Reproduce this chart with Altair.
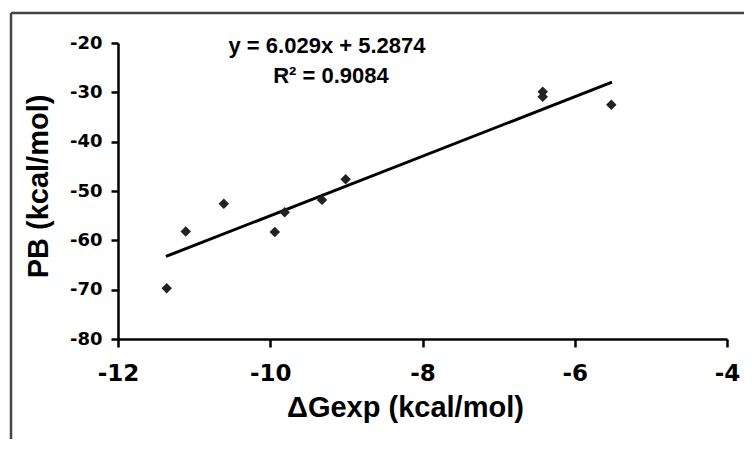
import altair as alt
import pandas as pd

# Data
dg_exp = [-11.36, -11.11, -10.61, -9.94, -9.81, -9.32, -9.01, -6.42, -6.42, -5.52]
pb = [-69.7, -58.2, -52.6, -58.3, -54.3, -51.8, -47.6, -29.9, -30.9, -32.5]

slope = 6.029
intercept = 5.2874
fit_x = [-11.37, -5.51]
fit_y = [slope * v + intercept for v in fit_x]

x_ticks = [-12, -10, -8, -6, -4]
y_ticks = [-80, -70, -60, -50, -40, -30, -20]

eq_text = "y = 6.029x + 5.2874"
r2_text = "R² = 0.9084"

pts = pd.DataFrame({"x": dg_exp, "y": pb})
fit = pd.DataFrame({"x": fit_x, "y": fit_y})

W, H = 609, 296

xscale = alt.Scale(domain=[-12, -4], nice=False, zero=False)
yscale = alt.Scale(domain=[-80, -20], nice=False, zero=False)

xaxis = alt.Axis(
    values=x_ticks, grid=False, domainColor="black", domainWidth=2.5,
    tickColor="black", tickWidth=2.5, tickSize=8,
    labelFont="DejaVu Sans", labelFontWeight="bold", labelFontSize=23,
    labelColor="black", labelPadding=15, labelFlush=False,
    labelExpr="toString(datum.value)",
    title="ΔGexp (kcal/mol)", titleFont="Liberation Sans", titleFontWeight="bold",
    titleFontSize=29, titleColor="black", titleX=287, titleY=77,
    titleBaseline="alphabetic", titleAlign="center",
)
yaxis = alt.Axis(
    values=y_ticks, grid=False, domainColor="black", domainWidth=2.5,
    tickColor="black", tickWidth=2.5, tickSize=7,
    labelFont="DejaVu Sans", labelFontWeight="bold", labelFontSize=18,
    labelColor="black", labelPadding=9, labelFlush=False,
    labelExpr="toString(datum.value)",
    title="PB (kcal/mol)", titleFont="Liberation Sans", titleFontWeight="bold",
    titleFontSize=29, titleColor="black", titleX=-71, titleY=143,
    titleAngle=270, titleBaseline="alphabetic", titleAlign="center",
)

points = alt.Chart(pts).mark_point(
    shape="diamond", filled=True, size=110, color="#222222", opacity=1
).encode(
    x=alt.X("x:Q", scale=xscale, axis=xaxis),
    y=alt.Y("y:Q", scale=yscale, axis=yaxis),
)

line = alt.Chart(fit).mark_line(color="black", strokeWidth=3).encode(
    x=alt.X("x:Q", scale=xscale),
    y=alt.Y("y:Q", scale=yscale),
)

txt_style = dict(font="Liberation Sans", fontWeight="bold", fontSize=22,
                 color="black", align="center", baseline="alphabetic")
eq = alt.Chart(pd.DataFrame({"t": [eq_text]})).mark_text(**txt_style).encode(
    text="t:N", x=alt.value(209), y=alt.value(10)
)
r2 = alt.Chart(pd.DataFrame({"t": [r2_text]})).mark_text(**txt_style).encode(
    text="t:N", x=alt.value(213), y=alt.value(40)
)

frame_left = alt.Chart(pd.DataFrame({"a": [0]})).mark_rule(
    color="#444444", strokeWidth=2.5
).encode(x=alt.value(-107), y=alt.value(-30), y2=alt.value(500))
frame_top = alt.Chart(pd.DataFrame({"a": [0]})).mark_rule(
    color="#444444", strokeWidth=2.5
).encode(y=alt.value(-30), x=alt.value(-107), x2=alt.value(700))

chart = alt.layer(frame_left, frame_top, line, points, eq, r2).properties(
    width=W, height=H,
    autosize=alt.AutoSizeParams(type="none"),
    padding={"left": 110, "top": 35, "right": 17, "bottom": 100},
    background="white",
).configure_view(stroke=None)

chart.save("out.html", embed_options={"renderer": "svg", "actions": False})
